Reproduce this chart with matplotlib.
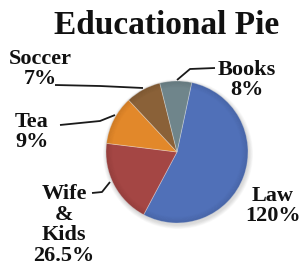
import numpy as np
import matplotlib
matplotlib.use('Agg')
import matplotlib.pyplot as plt

# 切片大小按图中角度读取（标签上的百分比是另写的文字）
names = ['Law', 'Wife\n&\nKids', 'Tea', 'Soccer', 'Books']
shares = [196, 69, 40, 29, 26]
pct_text = ['120%', '26.5%', '9%', '7%', '8%']
colors = ['#5070b8', '#a44644', '#e2882a', '#8a6138', '#6f858b']

W, H = 305, 269
fig = plt.figure(figsize=(W / 100, H / 100), dpi=100)
ax = fig.add_axes([0, 0, 1, 1])

cx, cy, r = 177, H - 152, 71

# 淡淡的阴影
for k in range(6):
    ax.add_patch(plt.Circle((cx + 1, cy - 2), r + 4 - k * 0.7, color='#000000',
                            alpha=0.025, lw=0, zorder=0))

wedges, _ = ax.pie(shares, colors=colors, startangle=78, counterclock=False,
                   center=(cx, cy), radius=r, frame=True,
                   wedgeprops=dict(linewidth=0.6, edgecolor='#ffffff55'))
ax.set_xlim(0, W)
ax.set_ylim(0, H)
ax.set_aspect('equal')
ax.axis('off')

# 边缘稍暗
for k in range(8):
    ax.add_patch(plt.Circle((cx, cy), r - k * 0.8, fill=False, lw=1.0,
                            edgecolor='#000000', alpha=0.05 * (8 - k) / 8, zorder=3))

ax.text(167, H - 26, 'Educational Pie', ha='center', va='center', fontsize=24,
        fontweight='bold', family='Liberation Serif', color='#111111')

fs = 16
tkw = dict(ha='center', va='center', fontsize=fs, fontweight='bold',
           family='Liberation Serif', color='#111111', linespacing=1.06)

# 标签位置
pos = {
    'Law': (273, 206),
    'Wife\n&\nKids': (64, 225),
    'Tea': (32, 132),
    'Soccer': (40, 69),
    'Books': (247, 80),
}
for nm, p in zip(names, pct_text):
    x, y = pos[nm]
    ax.text(x, H - y, nm + '\n' + p, **tkw)

# 引导线
lines = [
    [(55, 85), (100, 86), (143, 88)],
    [(60, 125), (100, 121), (115, 115)],
    [(92, 193), (102, 192), (110, 182)],
    [(215, 68), (190, 69), (177, 80)],
]
for pts in lines:
    xs = [p[0] for p in pts]
    ys = [H - p[1] for p in pts]
    ax.plot(xs, ys, color='#1a1a1a', lw=1.3, zorder=4, solid_capstyle='butt')

fig.savefig('out.png', dpi=100)
